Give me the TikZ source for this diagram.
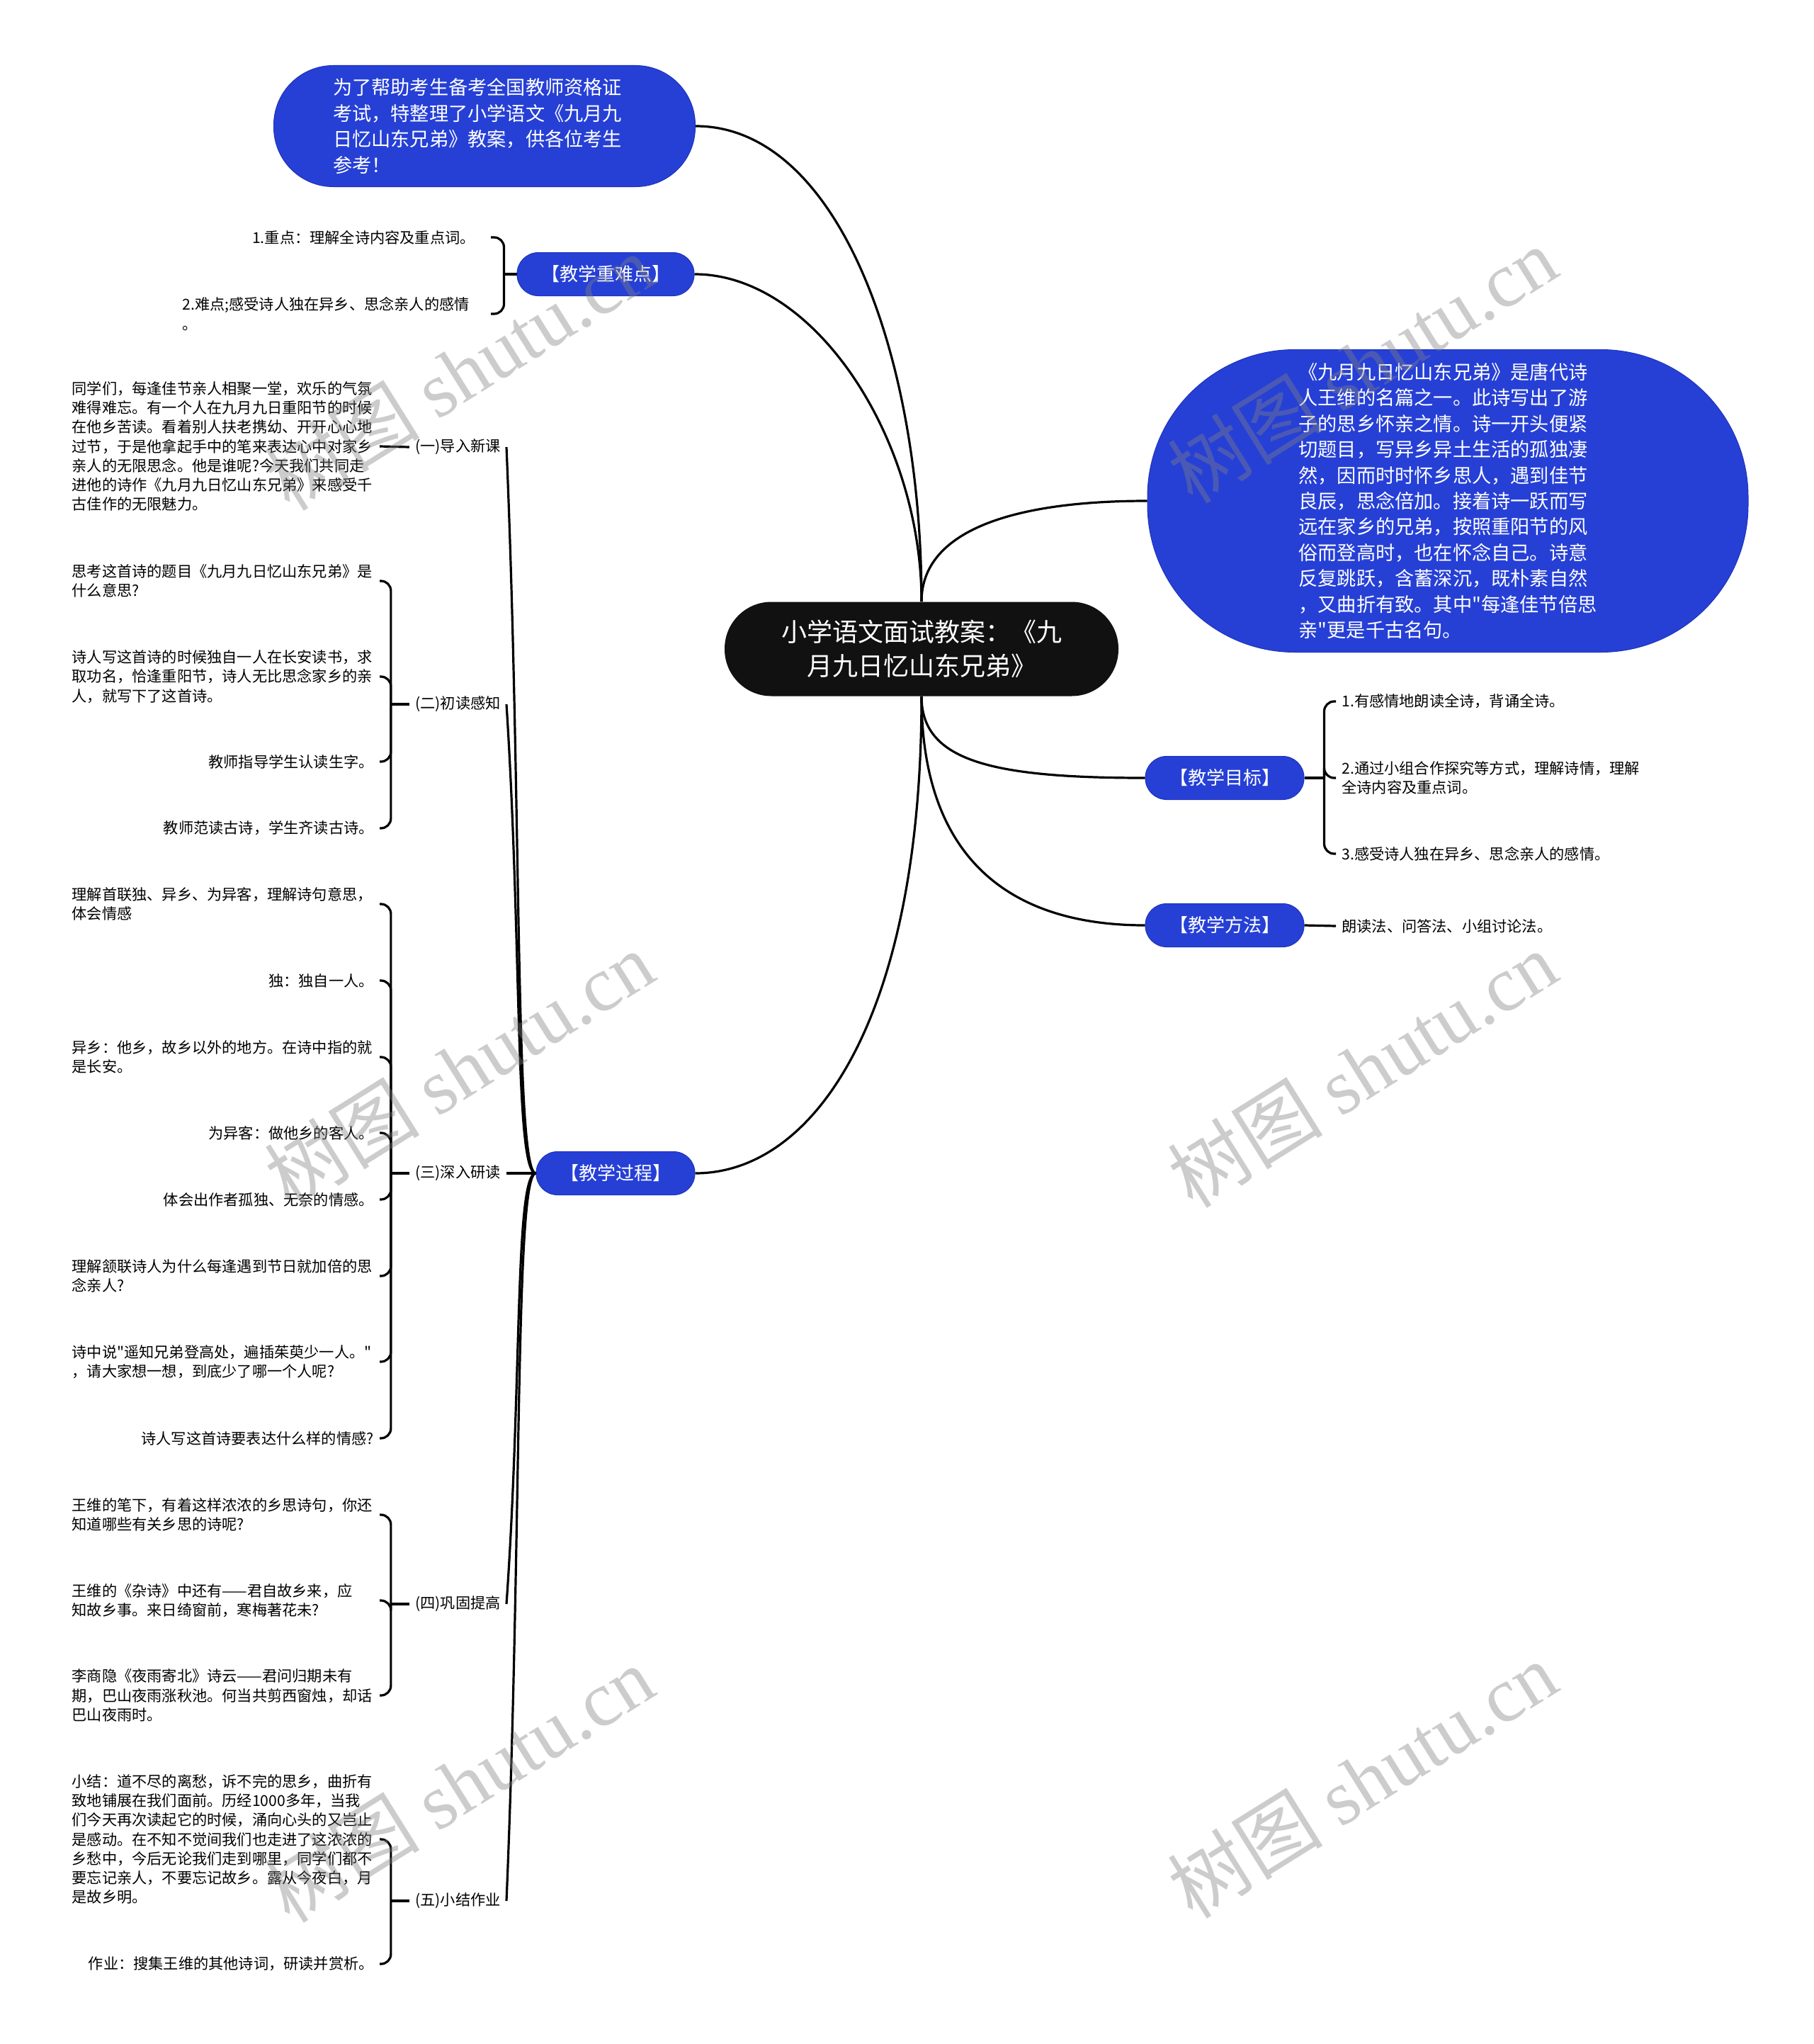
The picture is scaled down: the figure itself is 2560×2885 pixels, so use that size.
\documentclass[tikz,border=0pt]{standalone}
\usepackage{fontspec}
\setmainfont{Noto Sans CJK SC}[Ligatures=TeXOff]
\newfontfamily\wmlatin{Liberation Serif}
\definecolor{nodeblue}{RGB}{38,64,214}
\definecolor{nodeedge}{RGB}{30,50,185}
\definecolor{rootblack}{RGB}{17,17,17}
\begin{document}
\begin{tikzpicture}[x=0.5pt,y=-0.5pt,
  conn/.style={line width=1.6pt, draw=black},
  brk/.style={conn, rounded corners=7pt},
  smalltext/.style={font=\fontsize{10.6}{13.6}\selectfont},
  leaf/.style={smalltext, align=left, inner xsep=4pt, inner ysep=2pt},
  leafw/.style={leaf, text width=213pt},
  sublabel/.style={smalltext, inner sep=4pt},
  branch/.style={fill=nodeblue, draw=nodeedge, line width=0.5pt, text=white, rounded corners=15pt, minimum height=30.5pt, inner xsep=17pt, font=\fontsize{13}{16}\selectfont},
  bignode/.style={fill=nodeblue, draw=nodeedge, line width=0.5pt, text=white, align=left, font=\fontsize{13.6}{18.2}\selectfont},
  watermark/.style={text=gray, text opacity=0.4, rotate=32, font=\fontsize{55}{60}\selectfont, inner sep=0pt}
]
\useasboundingbox (0,0) rectangle (2560,2885);
\fill[white] (0,0) rectangle (2560,2885);

% root
\node[fill=rootblack, text=white, rounded corners=33pt, minimum width=278pt, minimum height=66.5pt, align=center, font=\fontsize{18}{24}\selectfont, inner sep=0pt] (root) at (1301,916) {小学语文面试教案：《九\\月九日忆山东兄弟》};

% big blue nodes
\node[bignode, minimum width=297.5pt, minimum height=85.5pt, rounded corners=42pt, text width=206pt, inner xsep=0pt] (intro) at (684,178) {\hspace*{-4pt}为了帮助考生备考全国教师资格证\\\hspace*{-4pt}考试，特整理了小学语文《九月九\\\hspace*{-4pt}日忆山东兄弟》教案，供各位考生\\\hspace*{-4pt}参考！};
\node[bignode, minimum width=424pt, minimum height=213.5pt, rounded corners=104pt] (desc) at (2044,707) {《九月九日忆山东兄弟》是唐代诗\\人王维的名篇之一。此诗写出了游\\子的思乡怀亲之情。诗一开头便紧\\切题目，写异乡异土生活的孤独凄\\然，因而时时怀乡思人，遇到佳节\\良辰，思念倍加。接着诗一跃而写\\远在家乡的兄弟，按照重阳节的风\\俗而登高时，也在怀念自己。诗意\\反复跳跃，含蓄深沉，既朴素自然\\，又曲折有致。其中"每逢佳节倍思\\亲"更是千古名句。};

% branches
\node[branch] (kp) at (855,387) {【教学重难点】};
\node[branch] (goal) at (1729,1098) {【教学目标】};
\node[branch] (meth) at (1729,1306) {【教学方法】};
\node[branch] (proc) at (869,1656) {【教学过程】};

% root connectors
\draw[conn] (root.north) .. controls +(0,-350) and +(200,0) .. (intro.east);
\draw[conn] (root.north) .. controls +(0,-230) and +(170,0) .. (kp.east);
\draw[conn] (root.north) .. controls +(0,-100) and +(-190,0) .. (desc.west);
\draw[conn] (root.south) .. controls +(0,90) and +(-220,0) .. (goal.west);
\draw[conn] (root.south) .. controls +(0,220) and +(-200,0) .. (meth.west);
\draw[conn] (root.south) .. controls +(0,450) and +(170,0) .. (proc.east);

% key points
\node[leaf, anchor=east, inner xsep=11pt] (kp1) at (693,335) {1.重点：理解全诗内容及重点词。};
\node[leaf, anchor=east, inner xsep=15pt] (kp2) at (693,443) {2.难点;感受诗人独在异乡、思念亲人的感情\\。};
\path (kp.west) ++(-18,0) coordinate (jkp);
\draw[conn] (kp.west) -- (jkp);
\draw[brk] (jkp) |- (kp1.east);
\draw[brk] (jkp) |- (kp2.east);

% goals
\node[leaf, anchor=west] (g1) at (1886,990) {1.有感情地朗读全诗，背诵全诗。};
\node[leaf, anchor=west] (g2) at (1886,1098) {2.通过小组合作探究等方式，理解诗情，理解\\全诗内容及重点词。};
\node[leaf, anchor=west] (g3) at (1886,1205) {3.感受诗人独在异乡、思念亲人的感情。};
\path (goal.east) ++(28,0) coordinate (jg);
\draw[conn] (goal.east) -- (jg);
\draw[brk] (jg) |- (g1.west);
\draw[brk] (jg) |- (g2.west);
\draw[brk] (jg) |- (g3.west);

% method
\node[leaf, anchor=west] (m1) at (1886,1307) {朗读法、问答法、小组讨论法。};
\draw[conn] (meth.east) -- (m1.west);

% process sub labels
\node[sublabel, anchor=east] (s1) at (715,631) {(一)导入新课};
\node[sublabel, anchor=east] (s2) at (715,994) {(二)初读感知};
\node[sublabel, anchor=east] (s3) at (715,1656) {(三)深入研读};
\node[sublabel, anchor=east] (s4) at (715,2264) {(四)巩固提高};
\node[sublabel, anchor=east] (s5) at (715,2683) {(五)小结作业};
\draw[conn] (proc.west) .. controls +(-30,0) and +(22,520) .. (s1.east);
\draw[conn] (proc.west) .. controls +(-30,0) and +(22,340) .. (s2.east);
\draw[conn] (proc.west) -- (s3.east);
\draw[conn] (proc.west) .. controls +(-30,0) and +(22,-310) .. (s4.east);
\draw[conn] (proc.west) .. controls +(-30,0) and +(22,-520) .. (s5.east);

% (一)
\node[leafw, anchor=east] (c11) at (536,630) {同学们，每逢佳节亲人相聚一堂，欢乐的气氛\\难得难忘。有一个人在九月九日重阳节的时候\\在他乡苦读。看着别人扶老携幼、开开心心地\\过节，于是他拿起手中的笔来表达心中对家乡\\亲人的无限思念。他是谁呢?今天我们共同走\\进他的诗作《九月九日忆山东兄弟》来感受千\\古佳作的无限魅力。};
\draw[conn] (s1.west) -- (c11.east);

% (二)
\node[leafw, anchor=east] (c21) at (536,820) {思考这首诗的题目《九月九日忆山东兄弟》是\\什么意思?};
\node[leafw, anchor=east] (c22) at (536,955) {诗人写这首诗的时候独自一人在长安读书，求\\取功名，恰逢重阳节，诗人无比思念家乡的亲\\人，就写下了这首诗。};
\node[leaf, anchor=east] (c23) at (536,1075) {教师指导学生认读生字。};
\node[leaf, anchor=east] (c24) at (536,1169) {教师范读古诗，学生齐读古诗。};
\path (s2.west) ++(-26,0) coordinate (j2);
\draw[conn] (s2.west) -- (j2);
\foreach \c in {c21,c22,c23,c24} \draw[brk] (j2) |- (\c.east);

% (三)
\node[leafw, anchor=east] (c31) at (536,1276) {理解首联独、异乡、为异客，理解诗句意思，\\体会情感};
\node[leaf, anchor=east] (c32) at (536,1384) {独：独自一人。};
\node[leafw, anchor=east] (c33) at (536,1492) {异乡：他乡，故乡以外的地方。在诗中指的就\\是长安。};
\node[leaf, anchor=east] (c34) at (536,1599) {为异客：做他乡的客人。};
\node[leaf, anchor=east] (c35) at (536,1693) {体会出作者孤独、无奈的情感。};
\node[leafw, anchor=east] (c36) at (536,1801) {理解颔联诗人为什么每逢遇到节日就加倍的思\\念亲人?};
\node[leafw, anchor=east] (c37) at (536,1922) {诗中说"遥知兄弟登高处，遍插茱萸少一人。"\\，请大家想一想，到底少了哪一个人呢?};
\node[leaf, anchor=east] (c38) at (536,2030) {诗人写这首诗要表达什么样的情感?};
\path (s3.west) ++(-26,0) coordinate (j3);
\draw[conn] (s3.west) -- (j3);
\foreach \c in {c31,c32,c33,c34,c35,c36,c37,c38} \draw[brk] (j3) |- (\c.east);

% (四)
\node[leafw, anchor=east] (c41) at (536,2138) {王维的笔下，有着这样浓浓的乡思诗句，你还\\知道哪些有关乡思的诗呢?};
\node[leafw, anchor=east] (c42) at (536,2259) {王维的《杂诗》中还有——君自故乡来，应\\知故乡事。来日绮窗前，寒梅著花未?};
\node[leafw, anchor=east] (c43) at (536,2393) {李商隐《夜雨寄北》诗云——君问归期未有\\期，巴山夜雨涨秋池。何当共剪西窗烛，却话\\巴山夜雨时。};
\path (s4.west) ++(-26,0) coordinate (j4);
\draw[conn] (s4.west) -- (j4);
\foreach \c in {c41,c42,c43} \draw[brk] (j4) |- (\c.east);

% (五)
\node[leafw, anchor=east] (c51) at (536,2596) {小结：道不尽的离愁，诉不完的思乡，曲折有\\致地铺展在我们面前。历经1000多年，当我\\们今天再次读起它的时候，涌向心头的又岂止\\是感动。在不知不觉间我们也走进了这浓浓的\\乡愁中，今后无论我们走到哪里，同学们都不\\要忘记亲人，不要忘记故乡。露从今夜白，月\\是故乡明。};
\node[leaf, anchor=east] (c52) at (536,2772) {作业：搜集王维的其他诗词，研读并赏析。};
\path (s5.west) ++(-26,0) coordinate (j5);
\draw[conn] (s5.west) -- (j5);
\foreach \c in {c51,c52} \draw[brk] (j5) |- (\c.east);

% watermarks
\node[watermark] (w1) at (648,525) {树图 {\wmlatin shutu.cn}};
\node[watermark] (w2) at (1923,515) {树图 {\wmlatin shutu.cn}};
\node[watermark] (w3) at (648,1509) {树图 {\wmlatin shutu.cn}};
\node[watermark] (w4) at (1923,1509) {树图 {\wmlatin shutu.cn}};
\node[watermark] (w5) at (648,2518) {树图 {\wmlatin shutu.cn}};
\node[watermark] (w6) at (1923,2512) {树图 {\wmlatin shutu.cn}};
\end{tikzpicture}
\end{document}
